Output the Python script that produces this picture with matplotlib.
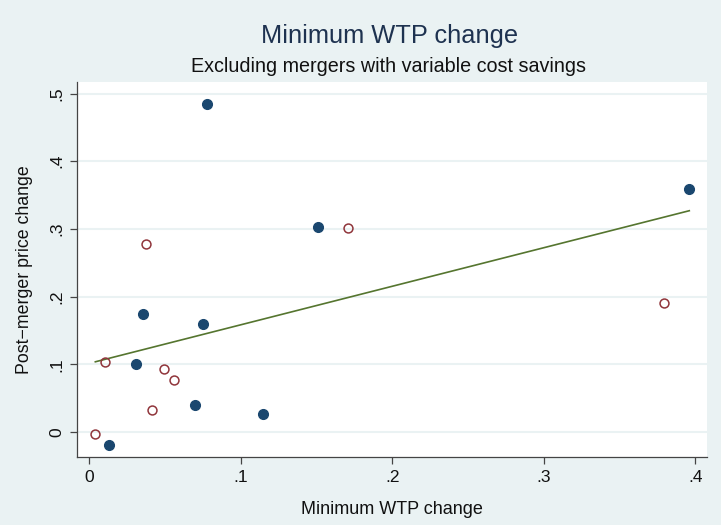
import numpy as np
import matplotlib
matplotlib.use("Agg")
import matplotlib.pyplot as plt

plt.rcParams['font.family'] = ['Liberation Sans', 'DejaVu Sans']

# mergers shown as filled dots
x_filled = [0.0779, 0.1507, 0.0357, 0.0748, 0.0308, 0.0700, 0.1144, 0.0132, 0.3960]
y_filled = [0.4845, 0.3023, 0.1743, 0.1590, 0.1000, 0.0404, 0.0261, -0.0197, 0.3585]
# mergers shown as hollow dots
x_hollow = [0.0374, 0.1705, 0.0101, 0.0495, 0.0559, 0.0411, 0.0040, 0.3793]
y_hollow = [0.2777, 0.3009, 0.1039, 0.0926, 0.0773, 0.0325, -0.0034, 0.1910]

x_ticks = [0, 0.1, 0.2, 0.3, 0.4]
x_ticklabels = ['0', '.1', '.2', '.3', '.4']
y_ticks = [0, 0.1, 0.2, 0.3, 0.4, 0.5]
y_ticklabels = ['0', '.1', '.2', '.3', '.4', '.5']

bg = '#eaf2f3'
navy = '#1a476f'
maroon = '#90353b'
green = '#55752f'

fig = plt.figure(figsize=(7.21, 5.25), dpi=100, facecolor=bg)
ax = fig.add_axes([0.1068, 0.1295, 0.8738, 0.7143])
ax.set_facecolor('white')

# linear fit over all mergers
xa = np.array(x_filled + x_hollow)
ya = np.array(y_filled + y_hollow)
b, a = np.polyfit(xa, ya, 1)
xl = np.array([xa.min(), xa.max()])
ax.plot(xl, a + b * xl, color=green, lw=1.2, zorder=2)

ax.plot(x_filled, y_filled, 'o', color=navy, ms=7.0, mec=navy, zorder=3)
ax.plot(x_hollow, y_hollow, 'o', mfc='none', mec=maroon, ms=6.4, mew=1.1, zorder=3)

ax.set_xlim(-0.0081, 0.4077)
ax.set_ylim(-0.037, 0.517)
ax.set_xticks(x_ticks, x_ticklabels)
ax.set_yticks(y_ticks, y_ticklabels)
for t in ax.get_yticklabels():
    t.set_rotation(90)
    t.set_va('center')
ax.tick_params(axis='both', length=5, width=0.9, color='#444444',
               labelsize=12.5, labelcolor='#111111', pad=4)

ax.yaxis.grid(True, color=bg, lw=1.5)
ax.set_axisbelow(True)
for s in ['top', 'right']:
    ax.spines[s].set_visible(False)
for s in ['left', 'bottom']:
    ax.spines[s].set_color('#444444')
    ax.spines[s].set_linewidth(0.9)

ax.set_xlabel('Minimum WTP change', fontsize=13, color='#111111', labelpad=12)
ax.set_ylabel('Post\u2212merger price change', fontsize=12.8, color='#111111', labelpad=12)

fig.text(0.54, 0.931, 'Minimum WTP change', ha='center', va='center',
         fontsize=18.3, color='#1e3250')
fig.text(0.539, 0.873, 'Excluding mergers with variable cost savings', ha='center',
         va='center', fontsize=14.2, color='#111111')

fig.savefig('out.png', dpi=100, facecolor=bg)
